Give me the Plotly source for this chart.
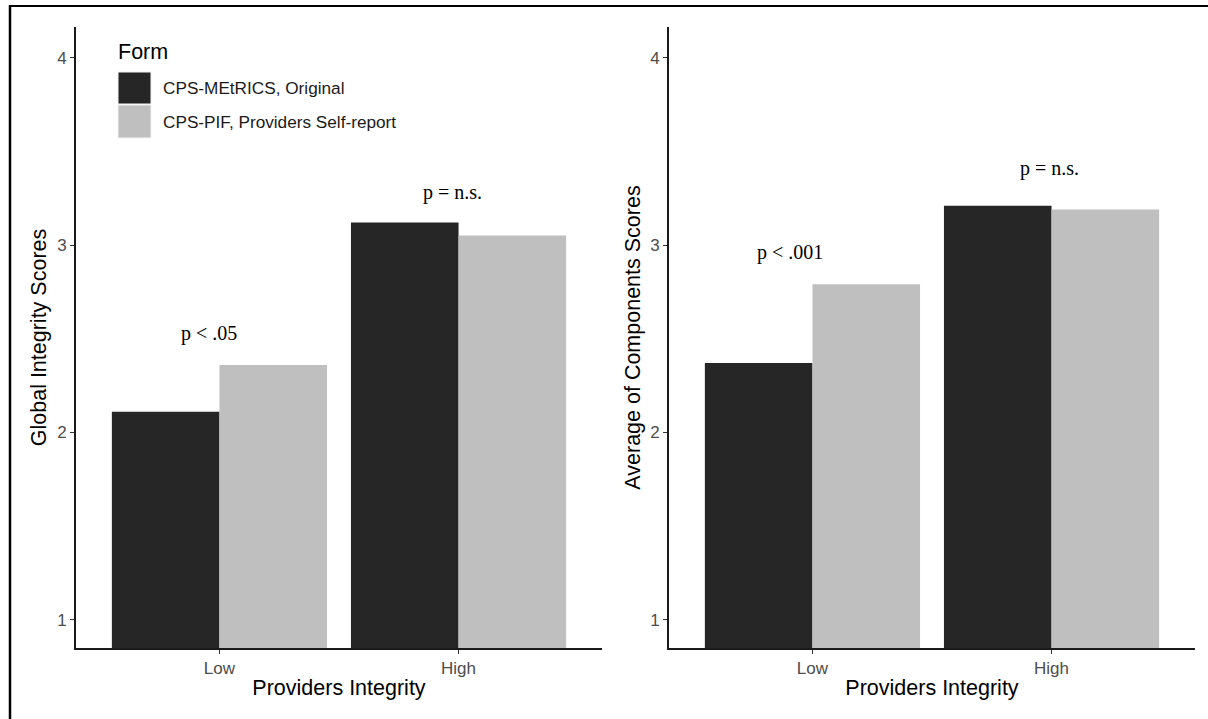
import plotly.graph_objects as go

# ---- data ----
categories = ["Low", "High"]
forms = ["CPS-MEtRICS, Original", "CPS-PIF, Providers Self-report"]
global_original = [2.11, 3.12]
global_selfreport = [2.36, 3.05]
components_original = [2.37, 3.21]
components_selfreport = [2.79, 3.19]
y_ticks = [1, 2, 3, 4]
p_labels_left = ["p < .05", "p = n.s."]
p_labels_right = ["p < .001", "p = n.s."]

colors = ["#262626", "#bfbfbf"]

W, H = 1208, 719

def px_x(p):
    return p / W

def px_y(p):
    return 1 - p / H

fig = go.Figure()

panels = [
    ("x", "y", global_original, global_selfreport),
    ("x2", "y2", components_original, components_selfreport),
]
for xa, ya, orig, selfr in panels:
    for name, vals, col in zip(forms, [orig, selfr], colors):
        fig.add_trace(go.Bar(
            x=categories, y=vals, name=name, xaxis=xa, yaxis=ya,
            marker=dict(color=col, line=dict(width=0)),
            showlegend=False,
        ))

sans = "Liberation Sans, Arial, sans-serif"
axis_common = dict(
    showgrid=False, zeroline=False, showline=True, linecolor="#1a1a1a", linewidth=1.8,
    ticks="outside", ticklen=4, tickwidth=1.2, tickcolor="#333333",
    tickfont=dict(family=sans, size=17, color="#4d4d4d"),
    automargin=False,
)
title_font = dict(family=sans, size=21.5, color="#000000")

yr = [0.85, 4.163]
fig.update_layout(
    width=W, height=H,
    paper_bgcolor="white", plot_bgcolor="white",
    margin=dict(l=0, r=0, t=0, b=0),
    barmode="group", bargap=0.1, bargroupgap=0,
    xaxis=dict(domain=[px_x(76), px_x(602)], range=[-0.6, 1.6], type="category", anchor="y",
               ticklabelstandoff=0,
               title=dict(text="Providers Integrity", font=title_font, standoff=3), **axis_common),
    yaxis=dict(domain=[px_y(648), px_y(27)], range=yr, tickvals=y_ticks, anchor="x",
               title=dict(text="Global Integrity Scores", font=title_font, standoff=5), **axis_common),
    xaxis2=dict(domain=[px_x(669), px_x(1195)], range=[-0.6, 1.6], type="category", anchor="y2",
                ticklabelstandoff=0,
                title=dict(text="Providers Integrity", font=title_font, standoff=3), **axis_common),
    yaxis2=dict(domain=[px_y(648), px_y(27)], range=yr, tickvals=y_ticks, anchor="x2",
                title=dict(text="Average of Components Scores", font=title_font, standoff=4), **axis_common),
    showlegend=False,
)

# p-value annotations
serif = dict(family="Liberation Serif, Times New Roman, serif", size=20, color="#000000")
ann_pos_left = [(-0.045, 2.53), (0.974, 3.28)]
ann_pos_right = [(-0.096, 2.96), (0.993, 3.41)]
for txt, (ax_, ay_) in zip(p_labels_left, ann_pos_left):
    fig.add_annotation(x=ax_, y=ay_, xref="x", yref="y", text=txt, showarrow=False, font=serif)
for txt, (ax_, ay_) in zip(p_labels_right, ann_pos_right):
    fig.add_annotation(x=ax_, y=ay_, xref="x2", yref="y2", text=txt, showarrow=False, font=serif)

# manual legend
fig.add_annotation(x=px_x(116), y=px_y(52), xref="paper", yref="paper", text="Form",
                   showarrow=False, xanchor="left", yanchor="middle",
                   font=dict(family=sans, size=21.5, color="#000000"))
sw_rows = [(72, 104), (105, 138)]
for (top, bot), name, col in zip(sw_rows, forms, colors):
    fig.add_shape(type="rect", xref="paper", yref="paper",
                  x0=px_x(118), x1=px_x(151), y0=px_y(bot), y1=px_y(top),
                  fillcolor=col, line=dict(width=1, color="#f2f2f2"), layer="above")
    fig.add_annotation(x=px_x(161), y=px_y((top + bot) / 2), xref="paper", yref="paper",
                       text=name, showarrow=False, xanchor="left", yanchor="middle",
                       font=dict(family=sans, size=17.2, color="#1a1a1a"))

# outer frame (top and left edges)
fig.add_shape(type="line", xref="paper", yref="paper", x0=px_x(9), x1=1, y0=px_y(6), y1=px_y(6),
              line=dict(color="black", width=2))
fig.add_shape(type="line", xref="paper", yref="paper", x0=px_x(10), x1=px_x(10), y0=0, y1=px_y(5),
              line=dict(color="black", width=2.5))

fig.write_html("out.html", config={"displayModeBar": False},
               post_script="document.body.style.margin='0px';document.body.style.overflow='hidden';")
